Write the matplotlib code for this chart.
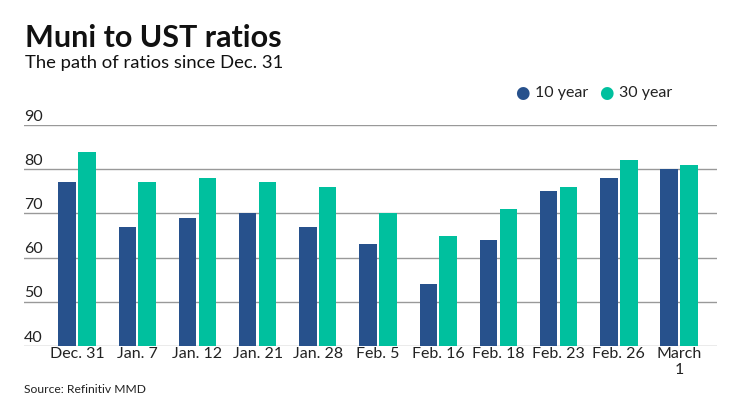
import numpy as np
import matplotlib.pyplot as plt

plt.rcParams['font.family'] = ['Lato', 'DejaVu Sans']

categories = ['Dec. 31', 'Jan. 7', 'Jan. 12', 'Jan. 21', 'Jan. 28', 'Feb. 5',
              'Feb. 16', 'Feb. 18', 'Feb. 23', 'Feb. 26', 'March\n1']
ten_year = [77, 67, 69, 70, 67, 63, 54, 64, 75, 78, 80]
thirty_year = [84, 77, 78, 77, 76, 70, 65, 71, 76, 82, 81]
y_ticks = [40, 50, 60, 70, 80, 90]

BLUE = '#27518c'
TEAL = '#00c09e'

fig = plt.figure(figsize=(7.4, 4.16), dpi=100)
ax = fig.add_axes([24 / 740, 1 - 346 / 416, (717 - 24) / 740, (346 - 125) / 416])

x = np.arange(len(categories))
w = 0.29
ax.bar(x - 0.165, [v - 40 for v in ten_year], w, bottom=40, color=BLUE, zorder=3)
ax.bar(x + 0.165, [v - 40 for v in thirty_year], w, bottom=40, color=TEAL, zorder=3)

ax.set_xlim(-0.88, len(categories) - 0.37)
ax.set_ylim(40, 90)

# gridlines with labels sitting above them
for t in y_ticks:
    ax.axhline(t, color='#999999', lw=1, zorder=1)
    ax.text(0.0, t + 0.3, str(t), transform=ax.get_yaxis_transform(),
            ha='left', va='bottom', fontsize=11.5, color='#222222')

ax.set_yticks([])
ax.set_xticks(x)
ax.set_xticklabels(categories, fontsize=11.5, color='#222222', linespacing=1.15)
ax.tick_params(axis='x', length=0, pad=1)
for s in ax.spines.values():
    s.set_visible(False)

fig.text(25 / 740, 1 - 47 / 416, 'Muni to UST ratios', fontsize=22,
         fontweight='bold', ha='left', va='baseline', color='#111111')
fig.text(25 / 740, 1 - 68 / 416, 'The path of ratios since Dec. 31', fontsize=13.3,
         ha='left', va='baseline', color='#111111')
fig.text(24 / 740, 1 - 393 / 416, 'Source: Refinitiv MMD', fontsize=8.7,
         ha='left', va='baseline', color='#222222')

# legend
for cx, col, label in [(522, BLUE, '10 year'), (606, TEAL, '30 year')]:
    fig.text(cx / 740, 1 - 93 / 416, '\u25CF', fontsize=12, color=col,
             ha='center', va='center', family='DejaVu Sans')
    fig.text((cx + 13) / 740, 1 - 93 / 416, label, fontsize=11.5,
             ha='left', va='center', color='#222222')

fig.savefig('out.png', dpi=100)
